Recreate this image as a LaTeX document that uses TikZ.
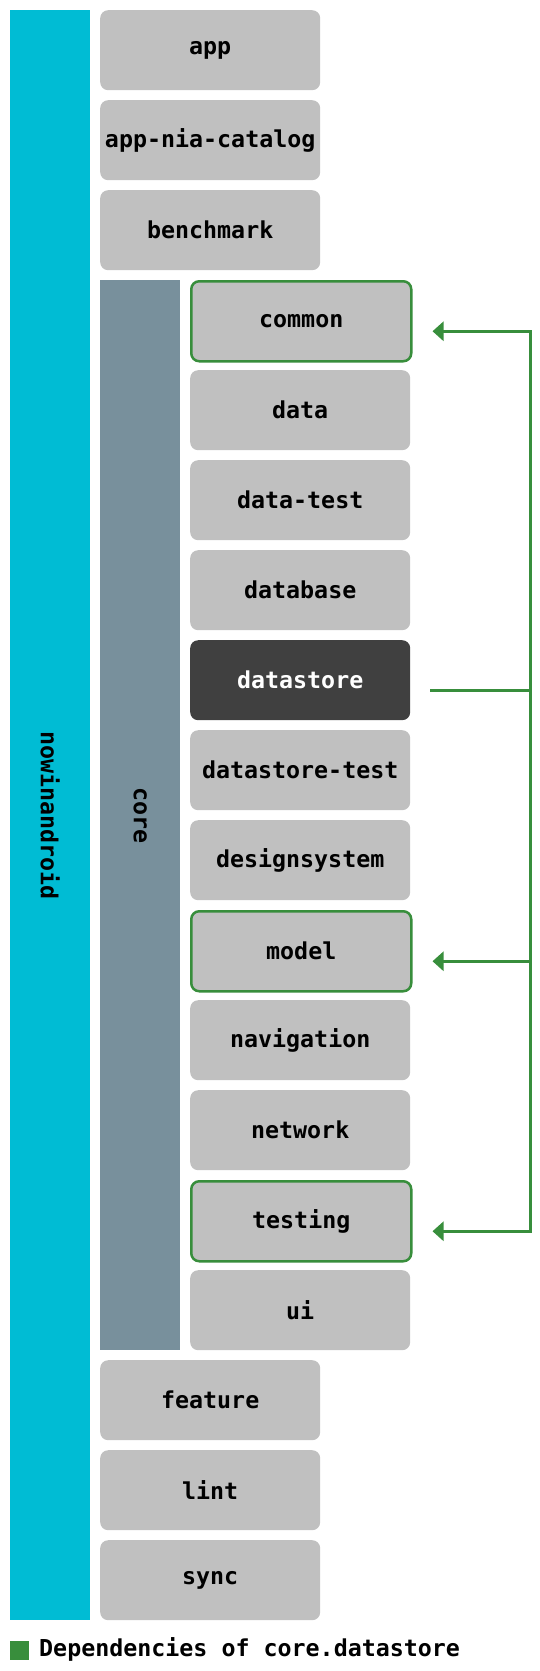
\documentclass[tikz,border=0pt]{standalone}
\usepackage{fontspec}
\setmonofont{DejaVu Sans Mono}
\usetikzlibrary{arrows.meta}
\definecolor{nowcyan}{HTML}{00BCD4}
\definecolor{coregray}{HTML}{78909C}
\definecolor{boxgray}{HTML}{C0C0C0}
\definecolor{darkbox}{HTML}{404040}
\definecolor{depgreen}{HTML}{388E3C}
\newcommand{\labfont}{\ttfamily\bfseries\fontsize{23.3}{27}\selectfont}
\newcommand{\legfont}{\ttfamily\bfseries\fontsize{23.3}{27}\selectfont}
\begin{document}
\begin{tikzpicture}[x=1pt,y=-1pt,
  modbox/.style={fill=boxgray, rounded corners=8pt, minimum width=220pt, minimum height=80pt,
    inner sep=0pt, anchor=north west, font=\labfont, text=black},
  depbox/.style={modbox, draw=depgreen, line width=2.5pt},
  selbox/.style={modbox, fill=darkbox, text=white},
  groupbar/.style={inner sep=0pt, anchor=north west, minimum width=80pt, font=\labfont, text=black},
  conn/.style={draw=depgreen, line width=3pt},
  arr/.style={-{Triangle[length=11pt,width=19pt]}}
]
\useasboundingbox (0,0) rectangle (540,1671);
% group bars
\node[groupbar, fill=nowcyan, minimum height=1610pt] (nia) at (10,10) {};
\node[rotate=-90, font=\labfont] (nialab) at (nia.center) {nowinandroid};
\node[groupbar, fill=coregray, minimum height=1070pt] (core) at (100,280) {};
\node[rotate=-90, font=\labfont] (corelab) at (core.center) {core};
% top-level modules
\node[modbox] (app) at (100,10) {app};
\node[modbox] (catalog) at (100,100) {app-nia-catalog};
\node[modbox] (benchmark) at (100,190) {benchmark};
% core modules
\node[depbox] (common) at (190,280) {common};
\node[modbox] (data) at (190,370) {data};
\node[modbox] (datatest) at (190,460) {data-test};
\node[modbox] (database) at (190,550) {database};
\node[selbox] (datastore) at (190,640) {datastore};
\node[modbox] (datastoretest) at (190,730) {datastore-test};
\node[modbox] (designsystem) at (190,820) {designsystem};
\node[depbox] (model) at (190,910) {model};
\node[modbox] (navigation) at (190,1000) {navigation};
\node[modbox] (network) at (190,1090) {network};
\node[depbox] (testing) at (190,1180) {testing};
\node[modbox] (ui) at (190,1270) {ui};
% remaining modules
\node[modbox] (feature) at (100,1360) {feature};
\node[modbox] (lint) at (100,1450) {lint};
\node[modbox] (sync) at (100,1540) {sync};
% connectors
\coordinate (dsout) at ([xshift=20pt,yshift=-10pt]datastore.east);
\coordinate (bus) at ([xshift=120pt,yshift=-10pt]datastore.east);
\draw[conn] (dsout) -- (bus);
\draw[conn, arr] (bus) |- ([xshift=20pt,yshift=-10pt]common.east);
\draw[conn, arr] (bus) |- ([xshift=20pt,yshift=-10pt]model.east);
\draw[conn, arr] (bus) |- ([xshift=20pt,yshift=-10pt]testing.east);
% legend
\node[fill=depgreen, minimum size=19pt, inner sep=0pt, anchor=north west] (legsq) at (10,1641) {};
\node[font=\legfont, anchor=base west, inner sep=0pt] (legtext) at (39,1656) {Dependencies of core.datastore};
\end{tikzpicture}
\end{document}
